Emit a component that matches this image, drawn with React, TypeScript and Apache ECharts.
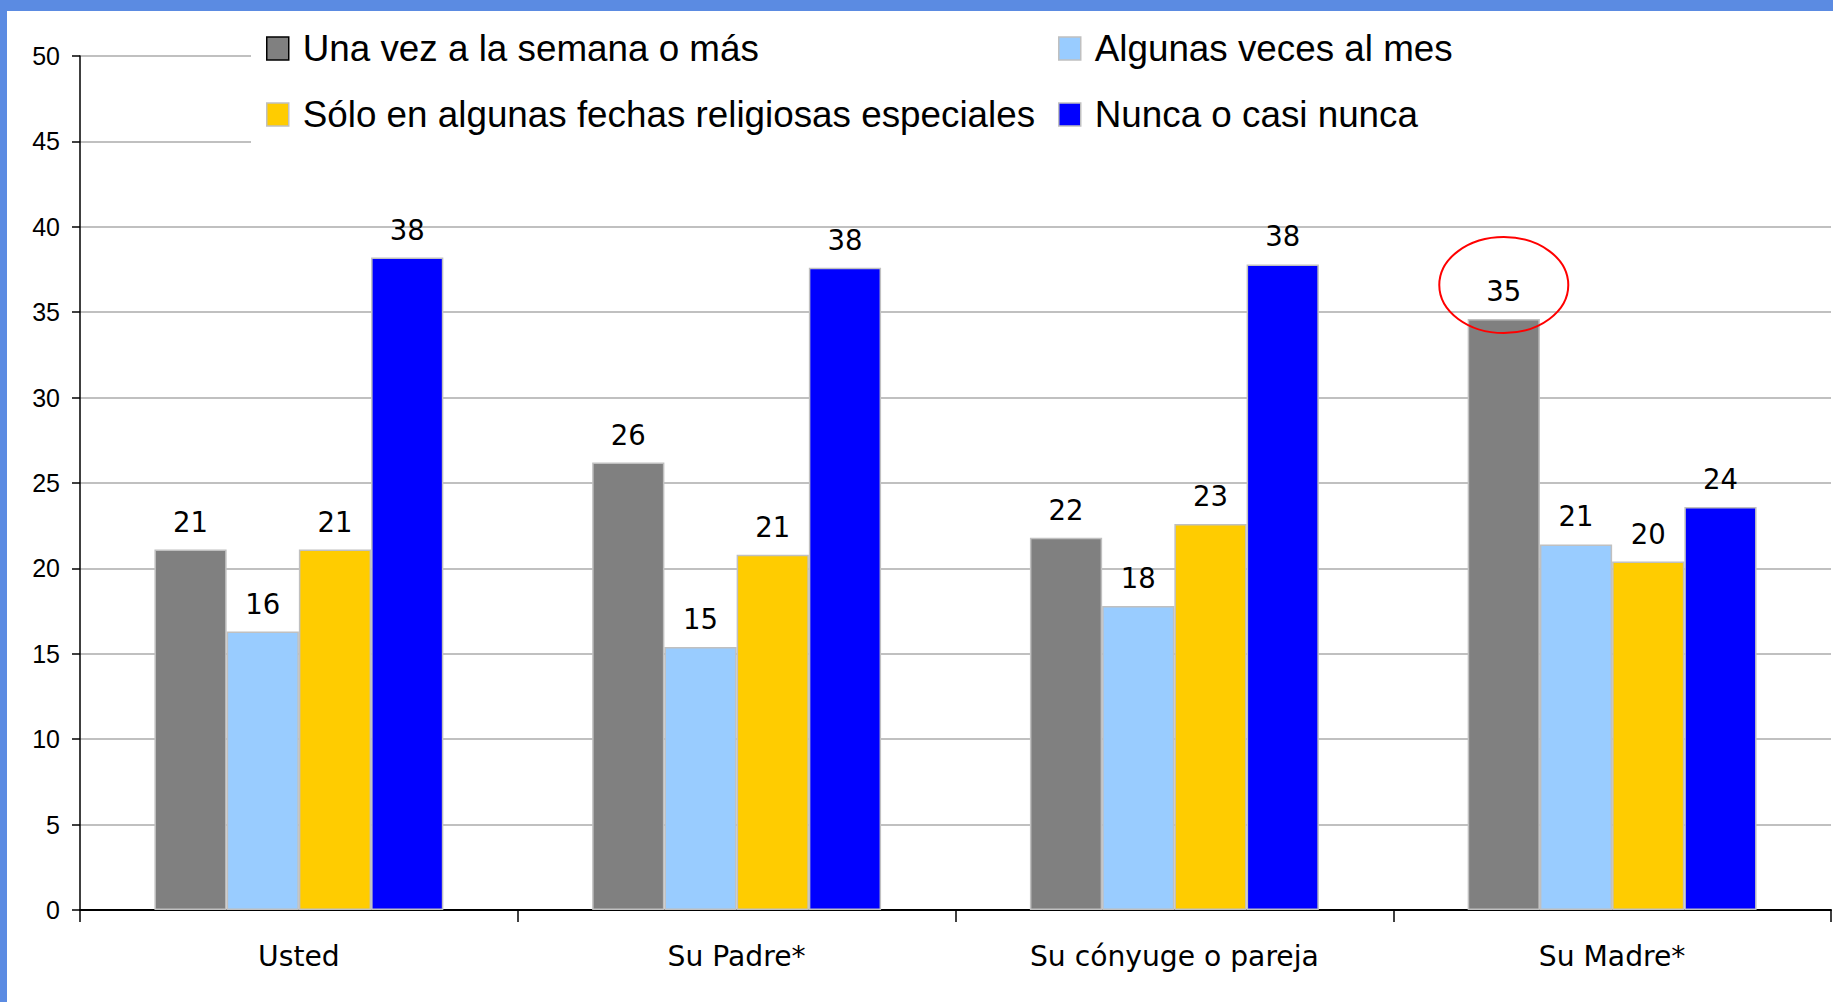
import React, { useEffect, useRef } from "react";
import * as echarts from "echarts";

const categories = ["Usted", "Su Padre*", "Su cónyuge o pareja", "Su Madre*"];
const seriesNames = [
  "Una vez a la semana o más",
  "Algunas veces al mes",
  "Sólo en algunas fechas religiosas especiales",
  "Nunca o casi nunca",
];
const unaVezSemana = [21.1, 26.2, 21.8, 34.6];
const algunasVecesMes = [16.3, 15.4, 17.8, 21.4];
const soloFechas = [21.1, 20.8, 22.6, 20.4];
const nuncaCasiNunca = [38.2, 37.6, 37.8, 23.6];
const seriesValues = [unaVezSemana, algunasVecesMes, soloFechas, nuncaCasiNunca];
const seriesColors = ["#808080", "#99ccff", "#ffcc00", "#0000ff"];
const yMin = 0;
const yMax = 50;
const yInterval = 5;
const highlightCategory = 3;
const highlightSeries = 0;

const W = 1833;
const H = 1002;
const FRAME = "#5b8be2";

export default function App() {
  const ref = useRef<HTMLDivElement>(null);
  useEffect(() => {
    document.body.style.margin = "0";
    const chart = echarts.init(ref.current!, null, { renderer: "svg", width: W, height: H });
    const barCategoryGap = 0.34;
    const legendItem = (i: number, border: string) => ({
      name: seriesNames[i],
      itemStyle: { borderColor: border, borderWidth: 1.5 },
    });
    const legendCommon = {
      orient: "vertical",
      top: 30,
      padding: 0,
      itemWidth: 22,
      itemHeight: 23,
      itemGap: 29,
      icon: "rect",
      z: 10,
      selectedMode: false,
      textStyle: {
        fontFamily: "Liberation Sans",
        fontSize: 36.8,
        color: "#000",
        padding: [0, 0, 0, 9],
      },
    };
    const baseGraphic = [
      { id: "legendBg", type: "rect", z: 5, shape: { x: 251, y: 18, width: W - 251, height: 134 }, style: { fill: "#fff" } },
      { id: "frameTop", type: "rect", z: 20, shape: { x: 0, y: 0, width: W, height: 11 }, style: { fill: FRAME } },
      { id: "frameLeft", type: "rect", z: 20, shape: { x: 0, y: 0, width: 7, height: H }, style: { fill: FRAME } },
    ];
    chart.setOption({
      animation: false,
      backgroundColor: "#fff",
      grid: { left: 80, right: 2, top: 56, bottom: 92, containLabel: false },
      legend: [
        { ...legendCommon, left: 266, data: [legendItem(0, "#000"), legendItem(2, "#c0c0c0")] },
        { ...legendCommon, left: 1058, data: [legendItem(1, "#c0c0c0"), legendItem(3, "#c0c0c0")] },
      ],
      xAxis: {
        type: "category",
        data: categories,
        axisLine: { lineStyle: { color: "#000", width: 2 } },
        axisTick: { show: true, length: 12, lineStyle: { color: "#000", width: 1.5 } },
        axisLabel: { fontFamily: "DejaVu Sans", fontSize: 28.2, color: "#000", margin: 32 },
        splitLine: { show: false },
      },
      yAxis: {
        type: "value",
        min: yMin,
        max: yMax,
        interval: yInterval,
        axisLine: { show: true, lineStyle: { color: "#000", width: 1.5 } },
        axisTick: { show: true, length: 8, lineStyle: { color: "#000", width: 1.5 } },
        axisLabel: { fontFamily: "Liberation Sans", fontSize: 25, color: "#000", margin: 20 },
        splitLine: { show: true, lineStyle: { color: "#c0c0c0", width: 2 } },
      },
      series: seriesValues.map((vals, i) => ({
        name: seriesNames[i],
        type: "bar",
        data: vals,
        barGap: "0%",
        barCategoryGap: barCategoryGap * 100 + "%",
        itemStyle: { color: seriesColors[i], borderColor: "#c0c0c0", borderWidth: 1.5 },
        label: {
          show: true,
          position: "top",
          distance: 14,
          fontFamily: "DejaVu Sans",
          fontSize: 27.5,
          color: "#000",
          formatter: (p: any) => String(Math.round(p.value)),
        },
      })),
      graphic: baseGraphic,
    });

    // Red ellipse annotation around the highlighted label
    const p = chart.convertToPixel({ xAxisIndex: 0, yAxisIndex: 0 }, [
      highlightCategory,
      seriesValues[highlightSeries][highlightCategory],
    ]) as number[];
    const p0 = chart.convertToPixel({ xAxisIndex: 0 }, 0) as any;
    const p1 = chart.convertToPixel({ xAxisIndex: 0 }, 1) as any;
    const band = Math.abs((p1 as number) - (p0 as number));
    const barW = (band * (1 - barCategoryGap)) / seriesValues.length;
    const cx = p[0] - barW * (seriesValues.length / 2 - highlightSeries - 0.5);
    const cy = p[1] - 34;
    chart.setOption({
      graphic: [
        ...baseGraphic,
        {
          id: "ellipse",
          type: "ellipse",
          z: 30,
          shape: { cx, cy, rx: 64.5, ry: 48 },
          style: { fill: "none", stroke: "#ff0000", lineWidth: 2 },
        },
      ],
    });
    return () => chart.dispose();
  }, []);
  return <div ref={ref} style={{ width: W, height: H }} />;
}
